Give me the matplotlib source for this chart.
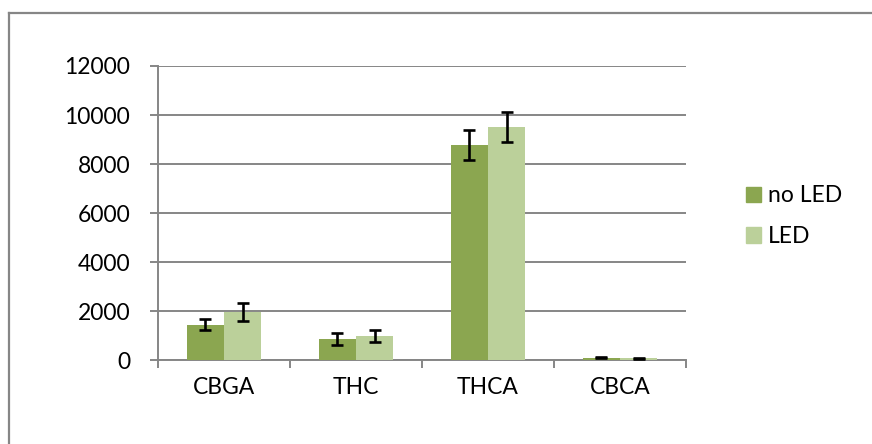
import numpy as np
import matplotlib
matplotlib.use("Agg")
import matplotlib.pyplot as plt
from matplotlib.lines import Line2D
from matplotlib.patches import Patch

categories = ["CBGA", "THC", "THCA", "CBCA"]
no_led = [1440, 860, 8770, 90]
no_led_err = [230, 235, 600, 20]
led = [1950, 970, 9510, 80]
led_err = [370, 245, 600, 20]
yticks = [0, 2000, 4000, 6000, 8000, 10000, 12000]

dark = "#8BA650"
light = "#BBD09A"
grey = "#868686"

plt.rcParams["font.family"] = ["Lato", "DejaVu Sans"]

W, H = 872, 444
fig = plt.figure(figsize=(W / 100, H / 100), dpi=100)

# chart border (only top and left visible in the crop)
fig.add_artist(Line2D([9 / W, 9 / W], [0, 1 - 13 / H], transform=fig.transFigure,
                      color=grey, lw=1.6))
fig.add_artist(Line2D([9 / W, 1], [1 - 13 / H, 1 - 13 / H], transform=fig.transFigure,
                      color=grey, lw=1.6))

ax = fig.add_axes([158 / W, 1 - 360 / H, (686 - 158) / W, (360 - 66) / H])

x = np.arange(len(categories))
w = 0.284
ekw = dict(ecolor="black", elinewidth=1.9, capsize=4.3, capthick=1.9)
ax.bar(x - w / 2, no_led, w, color=dark, yerr=no_led_err, error_kw=ekw, label="no LED", zorder=3)
ax.bar(x + w / 2, led, w, color=light, yerr=led_err, error_kw=ekw, label="LED", zorder=3)

ax.set_xlim(-0.5, len(categories) - 0.5)
ax.set_ylim(0, 12000)
ax.set_yticks(yticks)
ax.set_yticklabels([str(v) for v in yticks], fontsize=16.5)
ax.yaxis.grid(True, color=grey, lw=1.4, zorder=0)
ax.set_axisbelow(True)

ax.set_xticks(np.arange(len(categories) + 1) - 0.5)
ax.set_xticklabels([])
ax.set_xticks(x, minor=True)
ax.set_xticklabels(categories, minor=True, fontsize=16.5)
ax.tick_params(axis="x", which="major", length=6, width=1.4, color=grey, direction="out")
ax.tick_params(axis="x", which="minor", length=0, pad=12)
ax.tick_params(axis="y", length=6, width=1.4, color=grey, direction="out", pad=14)

for s in ["top", "right"]:
    ax.spines[s].set_visible(False)
for s in ["left", "bottom"]:
    ax.spines[s].set_color(grey)
    ax.spines[s].set_linewidth(1.4)

handles = [Patch(color=dark, label="no LED"), Patch(color=light, label="LED")]
fig.legend(handles=handles, loc="upper left", bbox_to_anchor=(735 / W, 1 - 174 / H),
           frameon=False, fontsize=16.5, handlelength=0.65, handleheight=0.65,
           handletextpad=0.3, labelspacing=0.85, borderpad=0)

fig.savefig("out.png", dpi=100)
